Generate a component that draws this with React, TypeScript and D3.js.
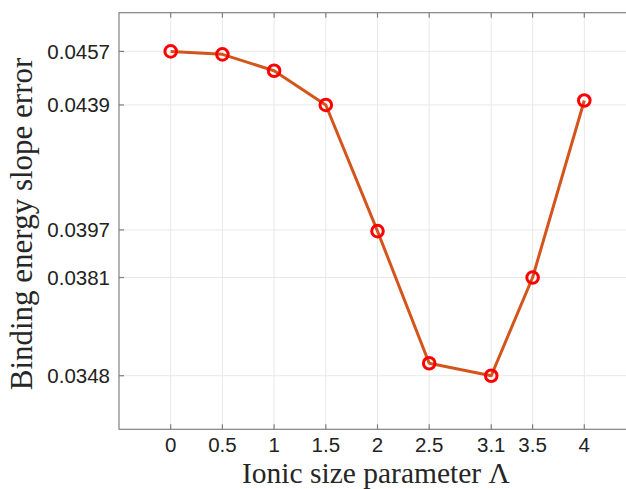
import React from "react";
import * as d3 from "d3";

const xValues = [0, 0.5, 1, 1.5, 2, 2.5, 3.1, 3.5, 4];
const yValues = [0.0457, 0.04560, 0.04505, 0.0439, 0.03966, 0.03522, 0.0348, 0.0381, 0.04405];
const xTicks = [0, 0.5, 1, 1.5, 2, 2.5, 3.1, 3.5, 4];
const yTicks = [0.0348, 0.0381, 0.0397, 0.0439, 0.0457];
const xLabel = "Ionic size parameter Λ";
const yLabel = "Binding energy slope error";

const W = 626;
const H = 489;
const left = 119;
const right = 636;
const top = 12.7;
const bottom = 429.3;

export default function App() {
  const x = d3.scaleLinear().domain([-0.5, 4.5]).range([left, right]);
  const y = d3.scaleLinear().domain([0.033, 0.047]).range([bottom, top]);
  const line = d3
    .line<number>()
    .x((_, i) => x(xValues[i]))
    .y((d) => y(d));
  const axisColor = "#808080";
  const gridColor = "#e8e8e8";
  const tickLen = 5;
  return (
    <svg
      width={W}
      height={H}
      style={{ position: "absolute", left: 0, top: 0, background: "#fff" }}
    >
      <rect x={0} y={0} width={W} height={H} fill="#fff" />
      {xTicks.map((t) => (
        <line key={"gx" + t} x1={x(t)} x2={x(t)} y1={top} y2={bottom} stroke={gridColor} strokeWidth={1} />
      ))}
      {yTicks.map((t) => (
        <line key={"gy" + t} x1={left} x2={right} y1={y(t)} y2={y(t)} stroke={gridColor} strokeWidth={1} />
      ))}
      <rect x={left} y={top} width={right - left} height={bottom - top} fill="none" stroke={axisColor} strokeWidth={1.2} />
      {xTicks.map((t) => (
        <g key={"tx" + t}>
          <line x1={x(t)} x2={x(t)} y1={bottom} y2={bottom - tickLen} stroke={axisColor} strokeWidth={1.2} />
          <line x1={x(t)} x2={x(t)} y1={top} y2={top + tickLen} stroke={axisColor} strokeWidth={1.2} />
          <text
            x={x(t)}
            y={452}
            textAnchor="middle"
            fontFamily="'Liberation Sans', Arial, sans-serif"
            fontSize={20.5}
            fill="#222"
          >
            {String(t)}
          </text>
        </g>
      ))}
      {yTicks.map((t) => (
        <g key={"ty" + t}>
          <line x1={left} x2={left + tickLen} y1={y(t)} y2={y(t)} stroke={axisColor} strokeWidth={1.2} />
          <text
            x={110}
            y={y(t)}
            dy="0.36em"
            textAnchor="end"
            fontFamily="'Liberation Sans', Arial, sans-serif"
            fontSize={20.5}
            fill="#222"
          >
            {t.toFixed(4)}
          </text>
        </g>
      ))}
      <path d={line(yValues) || ""} fill="none" stroke="#D4551C" strokeWidth={3} strokeLinejoin="round" />
      {yValues.map((v, i) => (
        <circle key={"m" + i} cx={x(xValues[i])} cy={y(v)} r={5.8} fill="none" stroke="#FF0000" strokeWidth={3} />
      ))}
      <text
        x={376}
        y={483}
        textAnchor="middle"
        fontFamily="'Liberation Serif', 'Times New Roman', serif"
        fontSize={29.5}
        fill="#262626"
      >
        {xLabel}
      </text>
      <text
        transform={`translate(32, 224) rotate(-90)`}
        textAnchor="middle"
        fontFamily="'Liberation Serif', 'Times New Roman', serif"
        fontSize={31}
        fill="#262626"
      >
        {yLabel}
      </text>
    </svg>
  );
}
